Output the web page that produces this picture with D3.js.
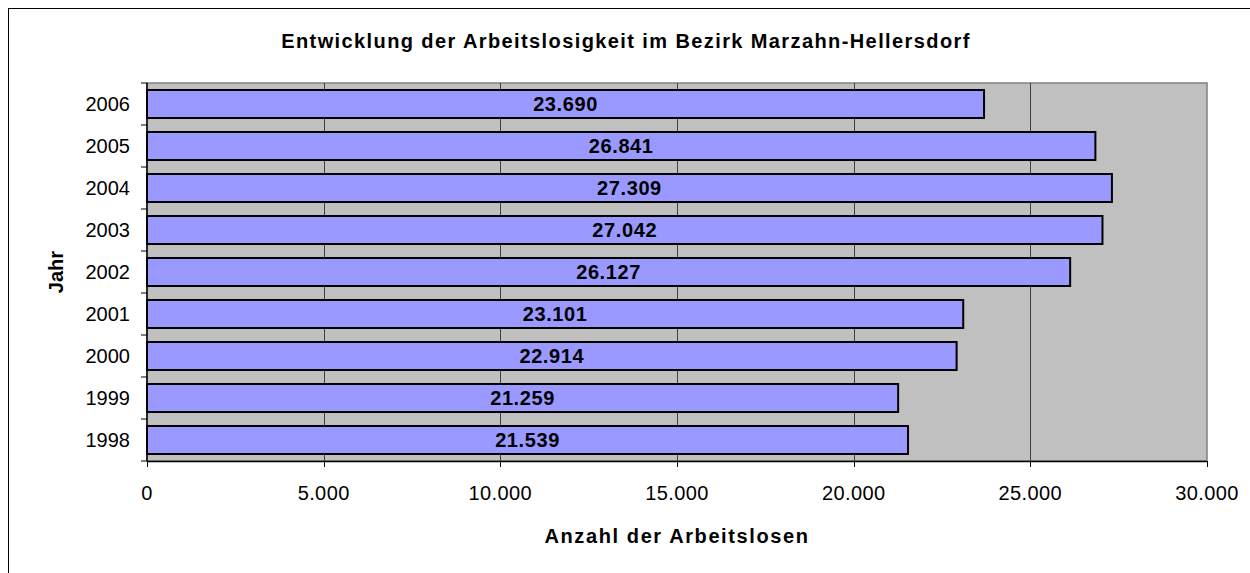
<!DOCTYPE html>
<html>
<head>
<meta charset="utf-8">
<script src="https://cdn.jsdelivr.net/npm/d3@7"></script>
<style>
  body { margin: 0; background: #fff; }
  svg text { font-family: "Liberation Sans", Arial, sans-serif; fill: #000; }
</style>
</head>
<body>
<svg id="chart" width="1250" height="573"></svg>
<script>
// Arbeitslose pro Jahr (von oben nach unten wie im Bild)
const years = ['2006', '2005', '2004', '2003', '2002', '2001', '2000', '1999', '1998'];
const values = [23690, 26841, 27309, 27042, 26127, 23101, 22914, 21259, 21539];
const xTicks = [0, 5000, 10000, 15000, 20000, 25000, 30000];

const svg = d3.select('#chart');
const plot = { left: 147, top: 83, right: 1207, bottom: 461 };

const fmt = d3.formatLocale({ decimal: ',', thousands: '.', grouping: [3], currency: ['', '€'] }).format(',d');

// Outer frame (runs off canvas at right/bottom)
svg.append('rect')
  .attr('x', 8.5).attr('y', 8.5)
  .attr('width', 1260).attr('height', 580)
  .attr('fill', 'none').attr('stroke', '#000').attr('stroke-width', 1);

const x = d3.scaleLinear().domain([0, 30000]).range([plot.left, plot.right]);
const y = d3.scaleBand().domain(years).range([plot.top, plot.bottom]).paddingInner(0);

// Plot background
svg.append('rect')
  .attr('x', plot.left).attr('y', plot.top)
  .attr('width', plot.right - plot.left).attr('height', plot.bottom - plot.top)
  .attr('fill', '#c0c0c0')
  .attr('stroke', '#808080').attr('stroke-width', 1.5);

// Vertical gridlines
svg.selectAll('.grid')
  .data(xTicks.slice(1, -1))
  .join('line')
  .attr('x1', d => Math.round(x(d)) + 0.5).attr('x2', d => Math.round(x(d)) + 0.5)
  .attr('y1', plot.top).attr('y2', plot.bottom)
  .attr('stroke', '#404040').attr('stroke-width', 1);

// Bars
const barH = y.bandwidth() / 1.5;
svg.selectAll('.bar')
  .data(values)
  .join('rect')
  .attr('x', x(0))
  .attr('y', (d, i) => y(years[i]) + (y.bandwidth() - barH) / 2)
  .attr('width', d => x(d) - x(0))
  .attr('height', barH)
  .attr('fill', '#9999ff')
  .attr('stroke', '#000').attr('stroke-width', 2);

// Bar labels
svg.selectAll('.lbl')
  .data(values)
  .join('text')
  .attr('x', d => (x(0) + x(d)) / 2)
  .attr('y', (d, i) => y(years[i]) + y.bandwidth() / 2 + 7)
  .attr('text-anchor', 'middle')
  .attr('font-size', 20).attr('font-weight', 'bold')
  .attr('letter-spacing', 0.6)
  .text(d => fmt(d));

// Y axis
svg.append('line')
  .attr('x1', plot.left).attr('x2', plot.left)
  .attr('y1', plot.top).attr('y2', plot.bottom)
  .attr('stroke', '#000').attr('stroke-width', 1.5);
svg.selectAll('.ytick')
  .data(years.concat(['end']))
  .join('line')
  .attr('x1', plot.left - 6).attr('x2', plot.left)
  .attr('y1', (d, i) => plot.top + i * y.bandwidth())
  .attr('y2', (d, i) => plot.top + i * y.bandwidth())
  .attr('stroke', '#000').attr('stroke-width', 1);
svg.selectAll('.ylab')
  .data(years)
  .join('text')
  .attr('x', 130)
  .attr('y', d => y(d) + y.bandwidth() / 2 + 7)
  .attr('text-anchor', 'end')
  .attr('font-size', 20)
  .text(d => d);

// X axis
svg.append('line')
  .attr('x1', plot.left).attr('x2', plot.right)
  .attr('y1', plot.bottom + 0.5).attr('y2', plot.bottom + 0.5)
  .attr('stroke', '#000').attr('stroke-width', 1.5);
svg.selectAll('.xtick')
  .data(xTicks)
  .join('line')
  .attr('x1', d => Math.round(x(d)) + 0.5).attr('x2', d => Math.round(x(d)) + 0.5)
  .attr('y1', plot.bottom).attr('y2', plot.bottom + 6)
  .attr('stroke', '#000').attr('stroke-width', 1);
svg.selectAll('.xlab')
  .data(xTicks)
  .join('text')
  .attr('x', d => x(d))
  .attr('y', 500)
  .attr('text-anchor', 'middle')
  .attr('font-size', 20)
  .attr('letter-spacing', 0.4)
  .text(d => fmt(d));

// Titles
svg.append('text')
  .attr('x', 626).attr('y', 48)
  .attr('text-anchor', 'middle')
  .attr('font-size', 20).attr('font-weight', 'bold')
  .attr('letter-spacing', 1.4)
  .text('Entwicklung der Arbeitslosigkeit im Bezirk Marzahn-Hellersdorf');

svg.append('text')
  .attr('x', (plot.left + plot.right) / 2).attr('y', 543)
  .attr('text-anchor', 'middle')
  .attr('font-size', 20).attr('font-weight', 'bold')
  .attr('letter-spacing', 1.6)
  .text('Anzahl der Arbeitslosen');

svg.append('text')
  .attr('transform', `translate(63, ${(plot.top + plot.bottom) / 2}) rotate(-90)`)
  .attr('text-anchor', 'middle')
  .attr('font-size', 20).attr('font-weight', 'bold')
  .text('Jahr');
</script>
</body>
</html>
